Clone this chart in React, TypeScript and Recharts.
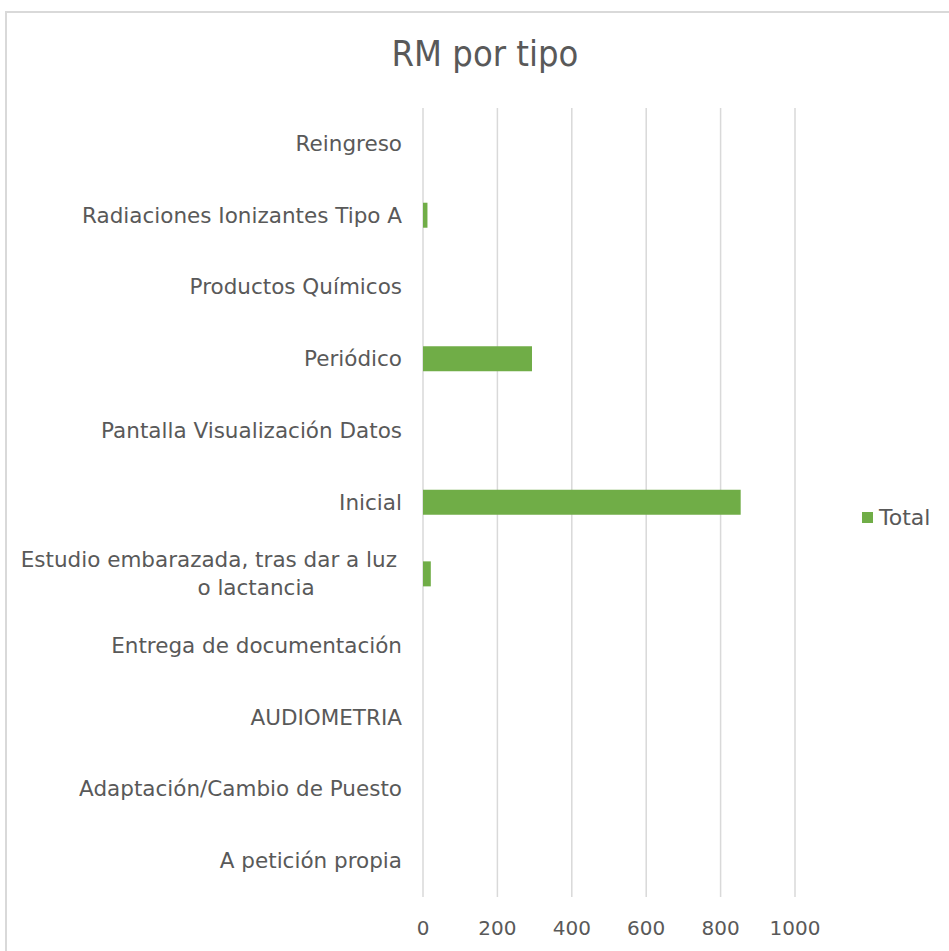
import { Bar, BarChart, CartesianGrid, XAxis, YAxis } from 'recharts';

const categories = [
    'Reingreso',
    'Radiaciones Ionizantes Tipo A',
    'Productos Químicos',
    'Periódico',
    'Pantalla Visualización Datos',
    'Inicial',
    'Estudio embarazada, tras dar a luz o lactancia',
    'Entrega de documentación',
    'AUDIOMETRIA',
    'Adaptación/Cambio de Puesto',
    'A petición propia',
];

const totals = [0, 12, 0, 293, 0, 854, 21, 0, 0, 0, 0];

const xTicks = [0, 200, 400, 600, 800, 1000];

const chartData = categories.map((name, i) => ({ name, total: totals[i] }));

const TEXT = '#595959';
const GRID = '#d9d9d9';
const GREEN = '#70ad47';
const FONT = '"DejaVu Sans", sans-serif';
const LABEL_SIZE = 21.5;

// split long labels into lines, Excel style
const wrap = (label: string, max = 35) => {
    const words = label.split(' ');
    const lines: string[] = [];
    let cur = '';
    words.forEach((w) => {
        const next = cur ? cur + ' ' + w : w;
        if (next.length > max && cur) {
            lines.push(cur);
            cur = w;
        } else {
            cur = next;
        }
    });
    if (cur) lines.push(cur);
    return lines;
};

const CategoryTick = (props: any) => {
    const { x, y, payload } = props;
    const lines = wrap(payload.value);
    if (lines.length === 1) {
        return (
            <text x={x} y={y} dy={7} textAnchor="end" fill={TEXT} fontSize={LABEL_SIZE} fontFamily={FONT}>
                {lines[0]}
            </text>
        );
    }
    return (
        <g>
            <text x={x - 5} y={y - 14} dy={7} textAnchor="end" fill={TEXT} fontSize={LABEL_SIZE} fontFamily={FONT}>
                {lines[0]}
            </text>
            <text x={x - 146} y={y + 14} dy={7} textAnchor="middle" fill={TEXT} fontSize={LABEL_SIZE} fontFamily={FONT}>
                {lines[1]}
            </text>
        </g>
    );
};

export default function App() {
    return (
        <div style={{ position: 'absolute', left: 0, top: 0, width: 949, height: 951, overflow: 'hidden', background: '#fff' }}>
            <div
                style={{
                    position: 'absolute',
                    left: 5,
                    top: 11,
                    width: 960,
                    height: 960,
                    border: `2px solid ${GRID}`,
                    boxSizing: 'border-box',
                }}
            />
            <div
                style={{
                    position: 'absolute',
                    top: 33,
                    left: 0,
                    width: 970,
                    textAlign: 'center',
                    fontFamily: '"DejaVu Sans Condensed", "DejaVu Sans", sans-serif',
                    fontSize: 36,
                    color: TEXT,
                }}
            >
                RM por tipo
            </div>
            <div style={{ position: 'absolute', left: 0, top: 0 }}>
                <BarChart
                    width={949}
                    height={951}
                    data={chartData}
                    layout="vertical"
                    margin={{ top: 108, right: 154, bottom: 24, left: 0 }}
                >
                    <CartesianGrid horizontal={false} stroke={GRID} strokeWidth={1.5} />
                    <XAxis
                        type="number"
                        domain={[0, 1000]}
                        ticks={xTicks}
                        height={30}
                        axisLine={false}
                        tickLine={false}
                        tick={{ fill: TEXT, fontSize: 20, fontFamily: FONT }}
                        tickMargin={18}
                        interval={0}
                    />
                    <YAxis
                        type="category"
                        dataKey="name"
                        width={423}
                        axisLine={false}
                        tickLine={false}
                        tick={<CategoryTick />}
                        tickMargin={15}
                        interval={0}
                    />
                    <Bar dataKey="total" fill={GREEN} barSize={25} isAnimationActive={false} />
                </BarChart>
            </div>
            <div
                style={{
                    position: 'absolute',
                    left: 862,
                    top: 505,
                    display: 'flex',
                    alignItems: 'center',
                    fontFamily: FONT,
                    fontSize: 22,
                    color: TEXT,
                }}
            >
                <span style={{ width: 11, height: 11, background: GREEN, display: 'inline-block', marginRight: 6 }} />
                Total
            </div>
        </div>
    );
}
